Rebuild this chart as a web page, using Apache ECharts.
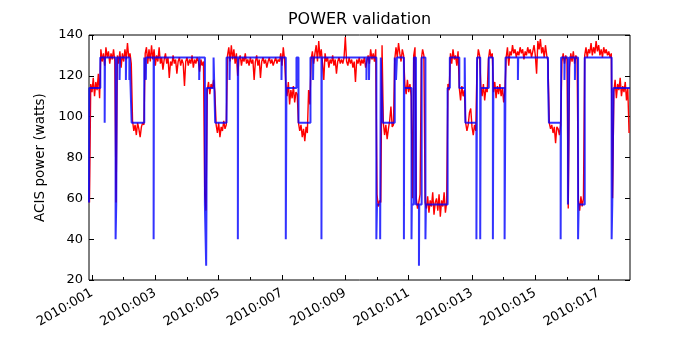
<!DOCTYPE html>
<html>
<head>
<meta charset="utf-8">
<script src="https://cdn.jsdelivr.net/npm/echarts@6/dist/echarts.min.js"></script>
<style>html,body{margin:0;padding:0;background:#fff;}#c{width:700px;height:350px;}</style>
</head>
<body>
<div id="c"></div>
<script>
// ---- data ----
const xTickDays = [1, 3, 5, 7, 9, 11, 13, 15, 17];
const xTickLabels = ['2010:001', '2010:003', '2010:005', '2010:007', '2010:009', '2010:011', '2010:013', '2010:015', '2010:017'];
const xMinorDays = [2, 4, 6, 8, 10, 12, 14, 16];
const xMin = 0.905, xMax = 17.99;
const yMin = 20, yMax = 140, yStep = 20;

// telemetry (red): sampled every redStep days from redStart
const redStart = 0.92, redStep = 0.04;
const redWatts = [
  58,116,112,119,110,117,113,121,109,133,127,131,125,134,129,132,126,131,128,133,127,58,130,126,132,
  124,131,127,133,128,136,129,131,126,98,93,96,91,97,94,90,95,97,96,131,134,126,133,127,135,
  128,133,125,130,127,134,126,129,123,128,131,126,129,119,127,125,130,126,128,121,127,129,125,128,126,
  115,127,129,125,128,126,130,124,128,126,129,127,122,128,125,127,62,54,113,117,111,116,114,118,112,
  96,92,97,90,95,93,98,94,96,130,134,127,135,128,133,126,131,120,128,130,125,129,127,131,126,
  128,125,129,126,128,118,127,130,125,128,119,127,129,126,128,124,127,129,126,128,125,127,129,126,128,
  127,131,125,134,128,116,110,117,106,113,109,115,107,112,111,97,93,96,90,94,88,95,92,113,106,
  128,132,126,131,135,127,137,129,133,126,118,131,127,129,124,128,126,130,125,128,121,127,129,126,128,
  126,129,139,127,125,129,126,128,124,127,117,128,126,129,125,128,126,129,124,127,130,126,133,128,131,
  127,133,62,56,59,58,135,97,91,96,89,94,98,105,95,96,128,134,129,136,131,127,133,130,116,
  111,118,112,116,110,60,130,134,60,55,58,62,128,133,130,58,55,61,53,59,56,63,52,58,60,
  54,62,51,59,56,63,53,58,116,113,131,126,133,128,130,125,132,114,108,115,110,113,97,93,96,
  102,104,95,91,96,93,126,133,130,115,110,116,108,114,112,128,133,129,131,112,117,109,115,111,116,
  110,114,107,113,129,134,125,132,130,135,131,133,129,132,130,134,131,133,128,132,130,134,131,133,129,
  132,135,130,121,137,133,138,131,134,129,135,130,127,97,94,96,92,95,87,95,94,91,96,127,131,
  126,130,128,55,124,131,127,132,126,130,128,59,54,61,56,60,130,134,129,133,131,136,130,134,131,
  137,132,135,130,133,129,134,131,133,130,132,129,131,60,112,118,109,116,113,119,110,115,112,117,108,
  114,92
];

// model (blue): step function, value holds from each day until the next one
const blueDays = [0.905,0.915,1.262,1.40,1.41,1.745,1.765,1.785,1.87,1.885,2.07,2.08,2.18,2.19,2.252,2.65,2.70,2.71,2.946,2.956,
  4.385,4.395,4.565,4.605,4.615,4.625,4.839,4.89,5.249,5.344,5.354,5.606,5.616,6.984,6.994,7.12,7.14,7.457,7.521,7.899,
  7.981,7.991,8.246,8.256,9.666,9.676,9.748,9.758,9.98,10.0,10.10,10.12,10.18,10.56,10.60,10.63,10.85,10.86,11.09,11.10,
  11.165,11.23,11.325,11.335,11.41,11.53,11.545,12.23,12.30,12.60,12.77,12.79,13.14,13.16,13.26,13.275,13.53,13.66,13.675,14.03,
  14.06,14.45,14.46,15.40,15.43,15.80,15.815,15.92,15.93,16.03,16.07,16.25,16.26,16.35,16.37,16.56,17.41,17.43,17.47,17.99];
const blueWatts = [58,114,129,97,129,40,57,129,118,129,118,129,118,129,97,129,118,129,40,129,
  118,129,57,27,57,114,129,97,129,118,129,40,129,118,129,40,114,129,97,129,
  118,129,40,129,118,129,118,129,40,57,40,129,97,129,118,129,40,114,40,57,
  129,57,27,57,129,40,57,114,129,114,129,97,40,129,40,114,129,40,114,40,
  129,118,129,118,97,40,129,118,129,57,129,118,129,40,57,129,40,57,114,114];

// ---- chart ----
const FONT = 'DejaVu Sans';
const redData = redWatts.map((v, i) => [redStart + i * redStep, v]);
const blueData = blueDays.map((d, i) => [d, blueWatts[i]]);

function xAxisDef(pos, ticks, len, labels) {
  return {
    type: 'value', min: xMin, max: xMax, position: pos, gridIndex: 0,
    axisLine: { show: false },
    splitLine: { show: false },
    axisTick: { show: true, inside: true, length: len, customValues: ticks, lineStyle: { color: '#000', width: 1 } },
    axisLabel: labels ? {
      show: true, customValues: ticks, rotate: 30, margin: 12, fontSize: 13, fontFamily: FONT, color: '#000',
      formatter: v => xTickLabels[xTickDays.indexOf(v)] || ''
    } : { show: false }
  };
}

const chart = echarts.init(document.getElementById('c'), null, { renderer: 'canvas' });
chart.setOption({
  animation: false,
  backgroundColor: '#fff',
  title: {
    text: 'POWER validation', left: 359.5, top: 12, padding: 0, textAlign: 'center',
    textStyle: { fontFamily: FONT, fontSize: 16, fontWeight: 'normal', color: '#000' }
  },
  grid: { left: 89, top: 35, width: 541, height: 245, show: true, borderColor: '#000', borderWidth: 1, backgroundColor: 'transparent' },
  xAxis: [
    xAxisDef('bottom', xTickDays, 5, true),
    xAxisDef('bottom', xMinorDays, 3, false),
    xAxisDef('top', xTickDays, 5, false),
    xAxisDef('top', xMinorDays, 3, false)
  ],
  yAxis: [
    {
      type: 'value', min: yMin, max: yMax, interval: yStep, position: 'left',
      axisLine: { show: false }, splitLine: { show: false },
      axisTick: { show: true, inside: true, length: 5, lineStyle: { color: '#000' } },
      axisLabel: { fontSize: 13, fontFamily: FONT, color: '#000', margin: 6 },
      name: 'ACIS power (watts)', nameLocation: 'middle', nameGap: 40, nameRotate: 90,
      nameTextStyle: { fontSize: 13.5, fontFamily: FONT, color: '#000' }
    },
    {
      type: 'value', min: yMin, max: yMax, interval: yStep, position: 'right',
      axisLine: { show: false }, splitLine: { show: false },
      axisTick: { show: true, inside: true, length: 5, lineStyle: { color: '#000' } },
      axisLabel: { show: false }
    }
  ],
  series: [
    {
      type: 'line', data: redData, xAxisIndex: 0, yAxisIndex: 0, showSymbol: false, symbol: 'none',
      lineStyle: { color: '#ff0000', width: 1.4 }, z: 2, clip: true, silent: true
    },
    {
      type: 'line', data: blueData, step: 'end', xAxisIndex: 0, yAxisIndex: 0, showSymbol: false, symbol: 'none',
      lineStyle: { color: '#0000ff', width: 2, opacity: 0.8 }, z: 3, clip: true, silent: true
    }
  ]
});
</script>
</body>
</html>
